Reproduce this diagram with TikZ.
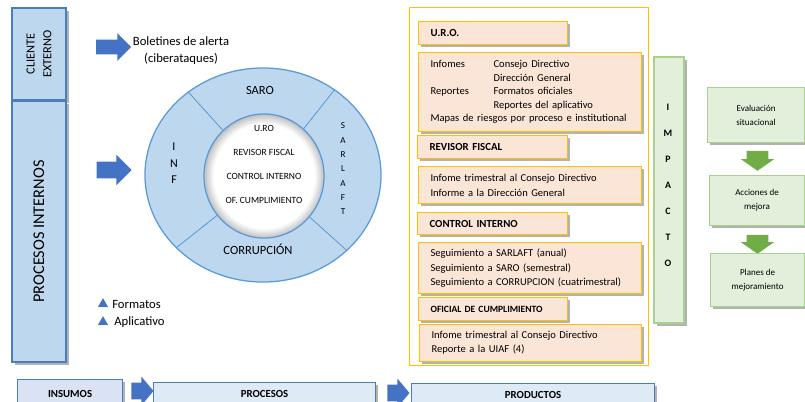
\documentclass[tikz,border=0pt]{standalone}
\usepackage{fontspec}
\setmainfont{Carlito}
\usepackage{tikz}
\usetikzlibrary{shapes.geometric,shapes.arrows,shadows}
\definecolor{SideBlue}{HTML}{BDD7EE}
\definecolor{LineBlue}{HTML}{4A7EBB}
\definecolor{RingLine}{HTML}{5B9BD5}
\definecolor{ArrowBlue}{HTML}{4472C4}
\definecolor{BaseFill}{HTML}{DEEBF7}
\definecolor{InsFill}{HTML}{DAE3F3}
\definecolor{Peach}{HTML}{FBE5D6}
\definecolor{Gold}{HTML}{FFC000}
\definecolor{GreenFill}{HTML}{E2EFDA}
\definecolor{GreenLine}{HTML}{A9D18E}
\definecolor{ArrowGreen}{HTML}{70AD47}
\pgfdeclareradialshading{innerglow}{\pgfpoint{0bp}{0bp}}{color(0bp)=(white); color(21bp)=(white); color(25bp)=(black!25); color(50bp)=(black!25)}
\tikzset{%
  BoxShadow/.style={drop shadow={shadow xshift=2pt,shadow yshift=-2pt,opacity=0.3,fill=black}},
  SideBox/.style={draw=LineBlue,fill=SideBlue,line width=0.85pt,minimum width=1.35cm,inner sep=0pt,BoxShadow},
  BlockArrow/.style={single arrow,fill=ArrowBlue,inner xsep=0pt,single arrow tip angle=90,single arrow head indent=0pt},
  GreenArrow/.style={single arrow,fill=ArrowGreen,inner xsep=0pt,inner ysep=0.2625cm,rotate=-90,single arrow head extend=0.15cm,single arrow tip angle=110,single arrow head indent=0pt},
  RingText/.style={font=\fontsize{8.9}{11}\selectfont},
  Tri/.style={regular polygon,regular polygon sides=3,fill=ArrowBlue,inner sep=0pt,minimum size=0.29cm},
  HeadBox/.style={draw=Gold,fill=Peach,line width=0.8pt,anchor=north west,inner xsep=0.3cm,text width=3.125cm,align=left,minimum height=0.575cm,font=\bfseries\fontsize{7.7}{9}\selectfont,BoxShadow},
  BodyBox/.style={draw=Gold,fill=Peach,line width=0.8pt,anchor=north west,inner xsep=0.3cm,text width=4.975cm,align=left,font=\fontsize{7.5}{10}\selectfont,BoxShadow},
  GreenBox/.style={draw=GreenLine,fill=GreenFill,line width=0.8pt,align=center,font=\fontsize{6.4}{10}\selectfont,BoxShadow},
  BaseBox/.style={draw=LineBlue,fill=BaseFill,line width=0.8pt,anchor=north west,minimum height=0.575cm,inner sep=0pt,font=\bfseries\fontsize{7.7}{9}\selectfont,BoxShadow}
}

\begin{document}
\begin{tikzpicture}[x=0.025cm,y=0.025cm]
\useasboundingbox (0,0) rectangle (805,-402);
\clip (0,0) rectangle (805,-402);

\node (cli) [SideBox,minimum height=2.3cm] at (39,-54) {};
\node (clit) [rotate=90,align=center,font=\fontsize{8.8}{12}\selectfont] at (cli) {CLIENTE\\EXTERNO};
\node (pin) [SideBox,minimum height=6.525cm] at (39,-231.5) {};
\node (pint) [rotate=90,font=\fontsize{11.6}{14}\selectfont] at (pin) {PROCESOS INTERNOS};

\node (ar1) [BlockArrow,inner ysep=0.175cm,minimum height=0.875cm,single arrow head extend=0.1625cm] at (110,-47) {};
\node (bol) [align=center,font=\fontsize{9}{12}\selectfont] at (181,-51) {Boletines de alerta\\(ciberataques)};
\node (ar2) [BlockArrow,inner ysep=0.2cm,minimum height=0.875cm,single arrow head extend=0.175cm] at (110,-170) {};

\node (ring) [ellipse,draw=RingLine,fill=SideBlue,line width=0.9pt,minimum width=5.9cm,minimum height=5.35cm,inner sep=0pt] at (263,-175) {};
\node (core) [ellipse,draw=RingLine,shade,shading=innerglow,line width=0.9pt,minimum width=3cm,minimum height=3.1cm,inner sep=0pt] at (264,-176) {};
\foreach \a in {132,50,220,318} {
    \draw [RingLine,line width=0.6pt] (core.\a) -- (ring.\a);
}
\node (saro) [RingText] at (260,-90) {SARO};
\node (corr) [RingText] at (258,-249) {CORRUPCIÓN};
\node (inf) [align=center,font=\fontsize{8.5}{11.7}\selectfont] at (174,-163.5) {I\\N\\F};
\node (sarl) [align=center,font=\fontsize{6.5}{10.2}\selectfont] at (343,-169) {S\\A\\R\\L\\A\\F\\T};
\node (coret) [align=center,font=\fontsize{6.75}{17}\selectfont] at (264,-164.5) {U.RO\\REVISOR FISCAL\\CONTROL INTERNO\\OF. CUMPLIMIENTO};

\node (tri1) [Tri] at (103,-304) {};
\node (fmt) [anchor=west,inner sep=0pt,font=\fontsize{9}{11}\selectfont] at (112,-304) {Formatos};
\node (tri2) [Tri] at (103,-322) {};
\node (apl) [anchor=west,inner sep=0pt,font=\fontsize{9}{11}\selectfont] at (114,-322) {Aplicativo};

\node (frame) [draw=Gold,line width=0.6pt,minimum width=5.975cm,minimum height=8.95cm,inner sep=0pt] at (528.5,-186) {};
\node (uro) [HeadBox] at (418,-21) {U.R.O.};
\node (urob) [BodyBox,minimum height=1.975cm,font=\fontsize{7.5}{9.6}\selectfont] at (418,-52)
    {\makebox[1.575cm][l]{Infomes}Consejo Directivo\\
     \hspace*{1.575cm}Dirección General\\
     \makebox[1.575cm][l]{Reportes}Formatos oficiales\\
     \hspace*{1.575cm}Reportes del aplicativo\\
     Mapas de riesgos por proceso e institutional};
\node (rf) [HeadBox,text width=3.15cm] at (417,-135) {REVISOR FISCAL};
\node (rfb) [BodyBox,minimum height=0.925cm,font=\fontsize{7.5}{10.7}\selectfont] at (418,-166) {Infome trimestral al Consejo Directivo\\Informe a la Dirección General};
\node (ci) [HeadBox,text width=3.15cm,minimum height=0.55cm] at (417,-212) {CONTROL INTERNO};
\node (cib) [BodyBox,minimum height=1.275cm] at (418,-242) {Seguimiento a SARLAFT (anual)\\Seguimiento a SARO (semestral)\\Seguimiento a CORRUPCION (cuatrimestral)};
\node (oc) [HeadBox,font=\bfseries\fontsize{6.8}{8}\selectfont] at (418,-297) {OFICIAL DE CUMPLIMIENTO};
\node (ocb) [BodyBox,text width=4.95cm,minimum height=0.925cm] at (419,-324) {Infome trimestral al Consejo Directivo\\Reporte a la UIAF (4)};

\node (imp) [GreenBox,minimum width=0.75cm,minimum height=6.65cm] at (669,-190) {};
\node (impt) [align=center,font=\bfseries\fontsize{7}{18.5}\selectfont] at (668,-185) {I\\M\\P\\A\\C\\T\\O};
\node (eva) [GreenBox,anchor=north west,minimum width=2.425cm,minimum height=1.375cm] at (707,-87) {Evaluación\\situacional};
\node (gar1) [GreenArrow,minimum height=0.5cm] at (757.5,-157) {};
\node (acc) [GreenBox,anchor=north west,minimum width=2.375cm,minimum height=1.25cm] at (709,-175) {Acciones de\\mejora};
\node (gar2) [GreenArrow,minimum height=0.475cm] at (757.5,-240.5) {};
\node (pla) [GreenBox,anchor=north west,minimum width=2.35cm,minimum height=1.325cm] at (710,-253) {Planes de\\mejoramiento};

\node (ins) [BaseBox,fill=InsFill,minimum width=2.625cm,minimum height=0.7cm] at (17,-379) {INSUMOS};
\node (ar3) [BlockArrow,inner ysep=0.2cm,minimum height=0.55cm,single arrow head extend=0.15cm,single arrow tip angle=100] at (139,-391) {};
\node (pro) [BaseBox,minimum width=5.55cm] at (153,-382) {PROCESOS};
\node (ar4) [BlockArrow,inner ysep=0.2cm,minimum height=0.55cm,single arrow head extend=0.15cm,single arrow tip angle=100] at (395,-393) {};
\node (prd) [BaseBox,minimum width=6.075cm] at (411,-383) {PRODUCTOS};
\end{tikzpicture}
\end{document}
